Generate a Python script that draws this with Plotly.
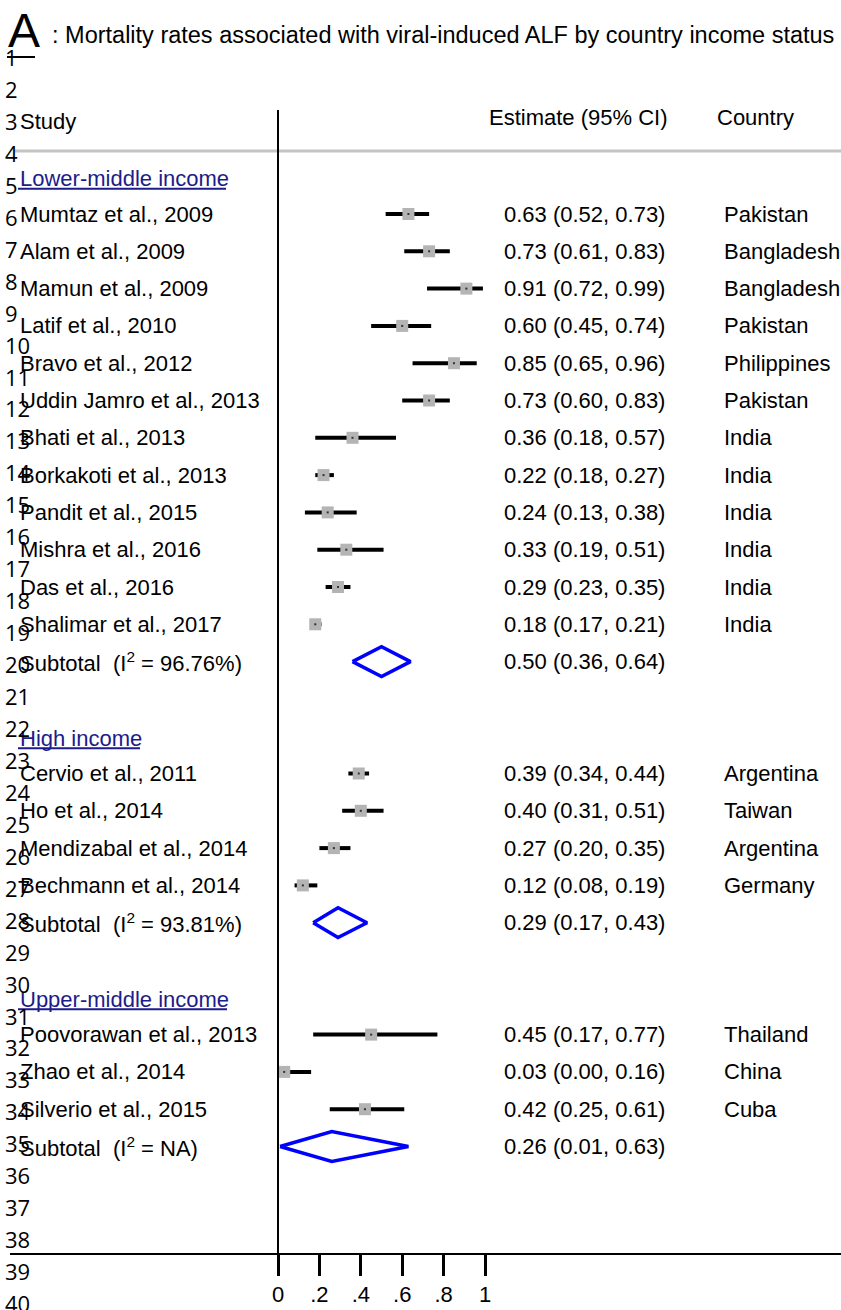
import plotly.graph_objects as go

# ---- data -------------------------------------------------------------
groups = ["Lower-middle income", "High income", "Upper-middle income"]

studies = [
    ["Mumtaz et al., 2009", "Alam et al., 2009", "Mamun et al., 2009", "Latif et al., 2010",
     "Bravo et al., 2012", "Uddin Jamro et al., 2013", "Bhati et al., 2013",
     "Borkakoti et al., 2013", "Pandit et al., 2015", "Mishra et al., 2016",
     "Das et al., 2016", "Shalimar et al., 2017"],
    ["Cervio et al., 2011", "Ho et al., 2014", "Mendizabal et al., 2014", "Bechmann et al., 2014"],
    ["Poovorawan et al., 2013", "Zhao et al., 2014", "Silverio et al., 2015"],
]
estimates = [
    [0.63, 0.73, 0.91, 0.60, 0.85, 0.73, 0.36, 0.22, 0.24, 0.33, 0.29, 0.18],
    [0.39, 0.40, 0.27, 0.12],
    [0.45, 0.03, 0.42],
]
ci_low = [
    [0.52, 0.61, 0.72, 0.45, 0.65, 0.60, 0.18, 0.18, 0.13, 0.19, 0.23, 0.17],
    [0.34, 0.31, 0.20, 0.08],
    [0.17, 0.00, 0.25],
]
ci_high = [
    [0.73, 0.83, 0.99, 0.74, 0.96, 0.83, 0.57, 0.27, 0.38, 0.51, 0.35, 0.21],
    [0.44, 0.51, 0.35, 0.19],
    [0.77, 0.16, 0.61],
]
countries = [
    ["Pakistan", "Bangladesh", "Bangladesh", "Pakistan", "Philippines", "Pakistan",
     "India", "India", "India", "India", "India", "India"],
    ["Argentina", "Taiwan", "Argentina", "Germany"],
    ["Thailand", "China", "Cuba"],
]
subtotal_est = [0.50, 0.29, 0.26]
subtotal_low = [0.36, 0.17, 0.01]
subtotal_high = [0.64, 0.43, 0.63]
subtotal_i2 = ["96.76%", "93.81%", "NA"]

tick_vals = [0, 0.2, 0.4, 0.6, 0.8, 1]
tick_text = ["0", ".2", ".4", ".6", ".8", "1"]

# ---- layout geometry --------------------------------------------------
W, H = 841, 1310
ML, MB = 10, 57                 # plot area: x from 10px, bottom at 1253px
PW, PH = W - ML, H - MB
X0_PX, UNIT_PX = 278, 207       # pixel of x=0 and pixels per unit
ROW0_PX, ROW_PX = 214, 37.3     # pixel of row 0 and row pitch

FONT = "Liberation Sans, Arial, Helvetica, sans-serif"
FS = 22
NUM_FONT = "Open Sans, Noto Sans"
NAVY = "#1c1c8a"


def xp(px):
    return (px - ML) / PW


def yp(py):
    return (H - MB - py) / PH


def yrow(py):
    return (py - ROW0_PX) / ROW_PX


x_range = [(ML - X0_PX) / UNIT_PX, (W - X0_PX) / UNIT_PX]
y_range = [yrow(H - MB), yrow(0)]

# assign row positions
rows = []          # (kind, group index, item index, row)
r = -1
for g in range(len(groups)):
    rows.append(("header", g, None, r))
    r += 1
    for i in range(len(studies[g])):
        rows.append(("study", g, i, r))
        r += 1
    rows.append(("subtotal", g, None, r))
    r += 2

fig = go.Figure()
annotations = []
shapes = []


def label(x_px, y, text, yref="y", size=FS, color="black", family=FONT):
    annotations.append(dict(x=xp(x_px), y=y, xref="paper", yref=yref, text=text,
                            showarrow=False, xanchor="left", yanchor="middle",
                            font=dict(family=family, size=size, color=color)))


st_x, st_y, st_lo, st_hi = [], [], [], []
for kind, g, i, rr in rows:
    if kind == "header":
        label(18, rr + 0.05, groups[g], color=NAVY)
    elif kind == "study":
        e, lo, hi = estimates[g][i], ci_low[g][i], ci_high[g][i]
        st_x.append(e)
        st_y.append(rr)
        st_lo.append(e - lo)
        st_hi.append(hi - e)
        label(18, rr, studies[g][i])
        label(502, rr, f"{e:.2f} ({lo:.2f}, {hi:.2f})")
        label(722, rr, countries[g][i])
    else:
        e, lo, hi = subtotal_est[g], subtotal_low[g], subtotal_high[g]
        fig.add_trace(go.Scatter(
            x=[lo, e, hi, e, lo], y=[rr, rr - 0.4, rr, rr + 0.4, rr],
            mode="lines", line=dict(color="#0000ff", width=3.5), hoverinfo="skip"))
        label(18, rr, f"Subtotal  (I<sup>2</sup> = {subtotal_i2[g]})")
        label(502, rr, f"{e:.2f} ({lo:.2f}, {hi:.2f})")

# confidence intervals with weight boxes
fig.add_trace(go.Scatter(
    x=st_x, y=st_y, mode="markers",
    marker=dict(symbol="square", size=12, color="#b4b4b4", line=dict(width=0)),
    error_x=dict(type="data", symmetric=False, array=st_hi, arrayminus=st_lo,
                 color="black", thickness=4, width=0),
    hoverinfo="skip"))
fig.add_trace(go.Scatter(
    x=st_x, y=st_y, mode="markers",
    marker=dict(symbol="square", size=2, color="#333333"), hoverinfo="skip"))

# column headers
label(18, yp(122), "Study", yref="paper")
label(487, yp(118), "Estimate (95% CI)", yref="paper")
label(715, yp(118), "Country", yref="paper")

# title
label(6, yp(31), "A", yref="paper", size=48)
label(50, yp(35), ": Mortality rates associated with viral-induced ALF by country income status",
      yref="paper", size=23.5)
shapes.append(dict(type="line", xref="paper", yref="paper", x0=xp(7), x1=xp(35),
                   y0=yp(57), y1=yp(57), line=dict(color="black", width=2)))

# line numbers down the left edge
for n in range(1, 41):
    label(3, yp(57 + (n - 1) * 31.95), str(n), yref="paper", size=22, family=NUM_FONT)

# group header underlines
for (kind, g, i, rr), w in zip([t for t in rows if t[0] == "header"], [226, 140, 227]):
    shapes.append(dict(type="line", xref="paper", yref="y", x0=xp(18), x1=xp(w),
                       y0=rr + 0.32, y1=rr + 0.32, line=dict(color=NAVY, width=2)))

# header rule and null line
shapes.append(dict(type="line", xref="paper", yref="paper", x0=xp(15), x1=1,
                   y0=yp(151), y1=yp(151), line=dict(color="#c4c4c4", width=3)))
shapes.append(dict(type="line", xref="x", yref="paper", x0=0, x1=0,
                   y0=0, y1=yp(110), line=dict(color="black", width=2)))

fig.update_layout(
    width=W, height=H, margin=dict(l=ML, r=0, t=0, b=MB),
    paper_bgcolor="white", plot_bgcolor="white", showlegend=False,
    annotations=annotations, shapes=shapes,
    xaxis=dict(range=x_range, showgrid=False, zeroline=False, showline=True,
               linecolor="black", linewidth=1.5, ticks="outside", ticklen=21,
               tickwidth=2.5, tickcolor="black", tickvals=tick_vals, ticktext=tick_text,
               tickfont=dict(family=FONT, size=FS, color="black")),
    yaxis=dict(range=y_range, visible=False),
)

fig.write_html("out.html")
